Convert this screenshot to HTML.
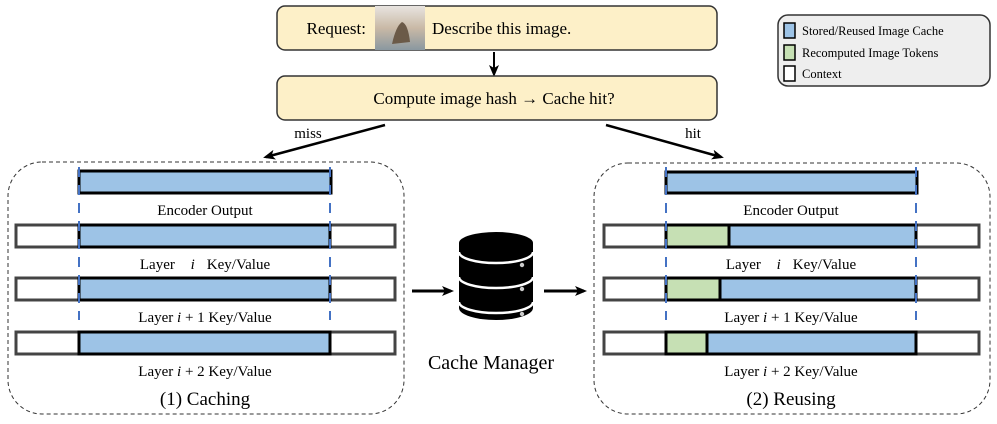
<!DOCTYPE html>
<html><head><meta charset="utf-8"><style>
html,body{margin:0;padding:0;background:#fff;}
svg{display:block;font-family:"Liberation Serif",serif;}
</style></head><body>
<svg width="997" height="424" viewBox="0 0 997 424" xmlns="http://www.w3.org/2000/svg">
<defs>
<marker id="ah" markerWidth="12" markerHeight="10" refX="9" refY="5" orient="auto" markerUnits="userSpaceOnUse"><path d="M0,0 L12,5 L0,10 L3,5 Z" fill="#000"/></marker>
<linearGradient id="img" x1="0" y1="0" x2="0" y2="1"><stop offset="0" stop-color="#e8e4e0"/><stop offset="0.5" stop-color="#c9b9a6"/><stop offset="1" stop-color="#8a98a0"/></linearGradient>
</defs>
<!-- top boxes -->
<rect x="277" y="6" width="440" height="44" rx="8" fill="#fdf0c8" stroke="#333" stroke-width="1.5"/>
<rect x="375" y="6" width="50" height="44" fill="url(#img)"/>
<path d="M392,44 q4,-18 10,-22 q6,2 8,20 z" fill="#6b5a48"/>
<text x="366" y="34" font-size="17" text-anchor="end">Request:</text>
<text x="432" y="34" font-size="17">Describe this image.</text>
<line x1="494" y1="52" x2="494" y2="74" stroke="#000" stroke-width="2" marker-end="url(#ah)"/>
<rect x="277" y="76" width="440" height="44" rx="8" fill="#fdf0c8" stroke="#333" stroke-width="1.5"/>
<text x="494" y="104" font-size="17" text-anchor="middle">Compute image hash → Cache hit?</text>
<!-- legend -->
<rect x="778" y="15" width="212" height="71" rx="10" fill="#eee" stroke="#333" stroke-width="1.5"/>
<rect x="784" y="23" width="11" height="15" fill="#9dc3e6" stroke="#000" stroke-width="1.5"/>
<rect x="784" y="45" width="11" height="15" fill="#c6e0b4" stroke="#000" stroke-width="1.5"/>
<rect x="784" y="66" width="11" height="15" fill="#fff" stroke="#000" stroke-width="1.5"/>
<text x="802" y="35" font-size="12.5">Stored/Reused Image Cache</text>
<text x="802" y="57" font-size="12.5">Recomputed Image Tokens</text>
<text x="802" y="78" font-size="12.5">Context</text>
<!-- miss/hit -->
<line x1="385" y1="125" x2="266" y2="157" stroke="#000" stroke-width="2.5" marker-end="url(#ah)"/>
<line x1="606" y1="125" x2="721" y2="157" stroke="#000" stroke-width="2.5" marker-end="url(#ah)"/>
<text x="308" y="138" font-size="15" text-anchor="middle">miss</text>
<text x="693" y="138" font-size="15" text-anchor="middle">hit</text>
<!-- left panel -->
<rect x="8" y="162" width="396" height="252" rx="34" fill="none" stroke="#333" stroke-width="1" stroke-dasharray="4,3"/>
<g stroke-linejoin="miter">
<rect x="79" y="171" width="252" height="22" fill="#9dc3e6" stroke="#000" stroke-width="3"/>
<rect x="16" y="225" width="379" height="22" fill="#fff" stroke="#444" stroke-width="3"/>
<rect x="79" y="225" width="251" height="22" fill="#9dc3e6" stroke="#000" stroke-width="3"/>
<rect x="16" y="278" width="379" height="22" fill="#fff" stroke="#444" stroke-width="3"/>
<rect x="79" y="278" width="251" height="22" fill="#9dc3e6" stroke="#000" stroke-width="3"/>
<rect x="16" y="332" width="379" height="22" fill="#fff" stroke="#444" stroke-width="3"/>
<rect x="79" y="332" width="251" height="22" fill="#9dc3e6" stroke="#000" stroke-width="3"/>
</g>
<line x1="79" y1="167" x2="79" y2="320" stroke="#4472c4" stroke-width="2" stroke-dasharray="10,8"/>
<line x1="330" y1="167" x2="330" y2="320" stroke="#4472c4" stroke-width="2" stroke-dasharray="10,8"/>
<g font-size="15" text-anchor="middle">
<text x="205" y="215">Encoder Output</text>
<text x="205" y="269">Layer <tspan font-style="italic" dx="12">i</tspan><tspan dx="12">Key/Value</tspan></text>
<text x="205" y="322">Layer <tspan font-style="italic">i</tspan> + 1 Key/Value</text>
<text x="205" y="376">Layer <tspan font-style="italic">i</tspan> + 2 Key/Value</text>
</g>
<text x="205" y="405" font-size="19" text-anchor="middle">(1) Caching</text>
<!-- right panel -->
<rect x="594" y="163" width="396" height="251" rx="34" fill="none" stroke="#333" stroke-width="1" stroke-dasharray="4,3"/>
<g>
<rect x="666" y="172" width="251" height="21" fill="#9dc3e6" stroke="#000" stroke-width="3"/>
<rect x="604" y="225" width="375" height="22" fill="#fff" stroke="#444" stroke-width="3"/>
<rect x="666" y="225" width="250" height="22" fill="#9dc3e6" stroke="#000" stroke-width="3"/>
<rect x="666" y="225" width="63" height="22" fill="#c6e0b4" stroke="#000" stroke-width="3"/>
<rect x="604" y="278" width="375" height="22" fill="#fff" stroke="#444" stroke-width="3"/>
<rect x="666" y="278" width="250" height="22" fill="#9dc3e6" stroke="#000" stroke-width="3"/>
<rect x="666" y="278" width="54" height="22" fill="#c6e0b4" stroke="#000" stroke-width="3"/>
<rect x="604" y="332" width="375" height="22" fill="#fff" stroke="#444" stroke-width="3"/>
<rect x="666" y="332" width="250" height="22" fill="#9dc3e6" stroke="#000" stroke-width="3"/>
<rect x="666" y="332" width="41" height="22" fill="#c6e0b4" stroke="#000" stroke-width="3"/>
</g>
<line x1="666" y1="167" x2="666" y2="320" stroke="#4472c4" stroke-width="2" stroke-dasharray="10,8"/>
<line x1="916" y1="167" x2="916" y2="320" stroke="#4472c4" stroke-width="2" stroke-dasharray="10,8"/>
<g font-size="15" text-anchor="middle">
<text x="791" y="215">Encoder Output</text>
<text x="791" y="269">Layer <tspan font-style="italic" dx="12">i</tspan><tspan dx="12">Key/Value</tspan></text>
<text x="791" y="322">Layer <tspan font-style="italic">i</tspan> + 1 Key/Value</text>
<text x="791" y="376">Layer <tspan font-style="italic">i</tspan> + 2 Key/Value</text>
</g>
<text x="791" y="405" font-size="19" text-anchor="middle">(2) Reusing</text>
<!-- database -->
<line x1="412" y1="291" x2="451" y2="291" stroke="#000" stroke-width="3" marker-end="url(#ah)"/>
<line x1="544" y1="291" x2="584" y2="291" stroke="#000" stroke-width="3" marker-end="url(#ah)"/>
<g fill="#000">
<path d="M459,243 L459,308 A37,12 0 0 0 533,308 L533,243 Z"/>
<ellipse cx="496" cy="243" rx="37" ry="11"/>
</g>
<g fill="none" stroke="#fff" stroke-width="2.5">
<path d="M459,252 A37,11 0 0 0 533,252"/>
<path d="M459,277 A37,11 0 0 0 533,277"/>
<path d="M459,302 A37,11 0 0 0 533,302"/>
</g>
<circle cx="522" cy="265" r="2.2" fill="#ccc"/>
<circle cx="522" cy="289" r="2.2" fill="#ccc"/>
<circle cx="522" cy="314" r="2.2" fill="#ccc"/>
<text x="491" y="369" font-size="20" text-anchor="middle">Cache Manager</text>
</svg>
</body></html>
